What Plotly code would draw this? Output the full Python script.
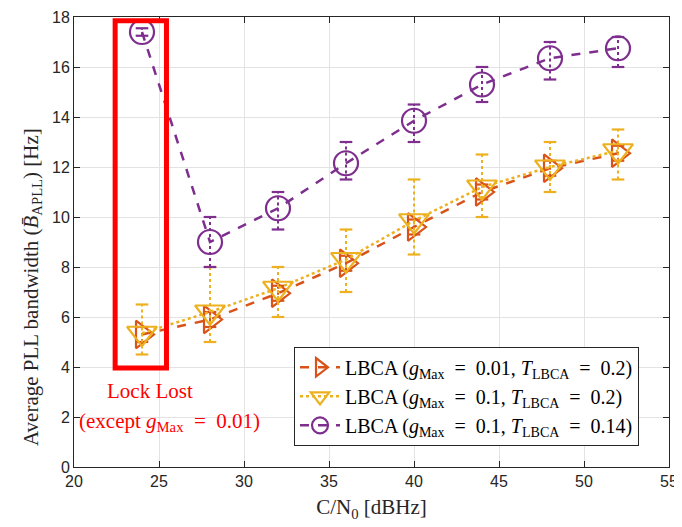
import plotly.graph_objects as go

cn0 = [24, 28, 32, 36, 40, 44, 48, 52]

# Series 1: gMax=0.01, T=0.2 (orange)
s1_y = [5.3, 5.9, 6.95, 8.15, 9.6, 11.0, 11.95, 12.55]
s1_lo = [5.0, 5.6, 6.65, 7.85, 9.3, 10.7, 11.65, 12.25]
s1_hi = [5.6, 6.2, 7.25, 8.45, 9.9, 11.3, 12.25, 12.85]

# Series 2: gMax=0.1, T=0.2 (yellow)
s2_y = [5.35, 6.2, 7.15, 8.3, 9.85, 11.2, 12.0, 12.65]
s2_lo = [4.5, 5.0, 6.0, 7.0, 8.5, 10.0, 11.0, 11.5]
s2_hi = [6.5, 8.0, 8.0, 9.5, 11.5, 12.5, 13.0, 13.5]

# Series 3: gMax=0.1, T=0.14 (purple)
s3_y = [17.4, 9.0, 10.35, 12.15, 13.85, 15.3, 16.35, 16.75]
s3_lo = [17.25, 8.0, 9.5, 11.5, 13.0, 14.6, 15.5, 16.0]
s3_hi = [17.55, 10.0, 11.0, 13.0, 14.5, 16.0, 17.0, 17.2]

EQ = "\u2002=\u2002"
names = [
    f"LBCA (<i>g</i><sub>Max</sub>{EQ}0.01, <i>T</i><sub>LBCA</sub>{EQ}0.2)",
    f"LBCA (<i>g</i><sub>Max</sub>{EQ}0.1, <i>T</i><sub>LBCA</sub>{EQ}0.2)",
    f"LBCA (<i>g</i><sub>Max</sub>{EQ}0.1, <i>T</i><sub>LBCA</sub>{EQ}0.14)",
]
colors = ["#D95319", "#EDB120", "#7E2F8E"]
symbols = ["triangle-right-open", "triangle-down-open", "circle-open"]
msizes = [24, 26, 24]
dashes = ["dash", "dot", "dash"]

# Lock-lost box (data coords)
box_x = [22.42, 25.44]
box_y = [3.96, 17.85]

SERIF = "Liberation Serif, Times New Roman, serif"
SANS = "Liberation Sans, Arial, sans-serif"

fig = go.Figure()

series = [(s1_y, s1_lo, s1_hi), (s2_y, s2_lo, s2_hi), (s3_y, s3_lo, s3_hi)]
for i, (ys, lo, hi) in enumerate(series):
    bx, by = [], []
    for x, a, b in zip(cn0, lo, hi):
        bx += [x, x, None]
        by += [a, b, None]
    fig.add_trace(go.Scatter(x=bx, y=by, mode="lines", showlegend=False,
                             line=dict(color=colors[i], width=2, dash="dot"),
                             hoverinfo="skip", legendgroup=str(i)))
    fig.add_trace(go.Scatter(x=cn0 + cn0, y=lo + hi, mode="markers", showlegend=False,
                             marker=dict(symbol="line-ew-open", size=9, color=colors[i],
                                         line=dict(color=colors[i], width=2.2)),
                             hoverinfo="skip", legendgroup=str(i)))
    fig.add_trace(go.Scatter(x=cn0, y=ys, mode="lines+markers", name=names[i],
                             legendgroup=str(i),
                             line=dict(color=colors[i], width=2.5, dash=dashes[i]),
                             marker=dict(symbol=symbols[i], size=msizes[i], color=colors[i],
                                         line=dict(color=colors[i], width=2.2))))

fig.add_shape(type="rect", x0=box_x[0], x1=box_x[1], y0=box_y[0], y1=box_y[1],
              xref="x", yref="y", line=dict(color="#FF0000", width=5))

fig.add_annotation(x=24.45, y=3.05, text="Lock Lost", showarrow=False,
                   font=dict(family=SERIF, size=21, color="#FF0000"))
fig.add_annotation(x=25.6, y=1.8, text=f"(except <i>g</i><sub>Max</sub>{EQ}0.01)",
                   showarrow=False, font=dict(family=SERIF, size=21, color="#FF0000"))

# y-axis title placed as a rotated annotation (offset as in the reference)
fig.add_annotation(x=0, y=0.40, xref="paper", yref="paper", xshift=-42,
                   text="Average PLL bandwidth (<i>B\u0304</i><sub>APLL</sub>) [Hz]",
                   textangle=-90, showarrow=False, xanchor="center", yanchor="middle",
                   font=dict(family=SERIF, size=21, color="#262626"))

axis_common = dict(showgrid=True, gridcolor="#E3E3E3", gridwidth=1,
                   showline=True, linecolor="#262626", linewidth=1, mirror="ticks",
                   ticks="inside", ticklen=6, tickcolor="#262626",
                   tickfont=dict(family=SANS, size=16, color="#262626"),
                   zeroline=False, automargin=False)

fig.update_xaxes(range=[20, 55], dtick=5, tick0=20,
                 title=dict(text="C/N<sub>0</sub> [dBHz]",
                            font=dict(family=SERIF, size=21, color="#262626"),
                            standoff=10),
                 **axis_common)
fig.update_yaxes(range=[0, 18], dtick=2, tick0=0, **axis_common)

fig.update_layout(
    width=674, height=519,
    margin=dict(l=66, r=13, t=9, b=60, autoexpand=False),
    plot_bgcolor="white", paper_bgcolor="white",
    legend=dict(x=0.9496, y=0.047, xanchor="right", yanchor="bottom",
                bgcolor="white", bordercolor="#262626", borderwidth=1,
                font=dict(family=SERIF, size=20, color="#000000"),
                tracegroupgap=0, itemwidth=40),
    showlegend=True,
)

fig.write_html("out.html")
